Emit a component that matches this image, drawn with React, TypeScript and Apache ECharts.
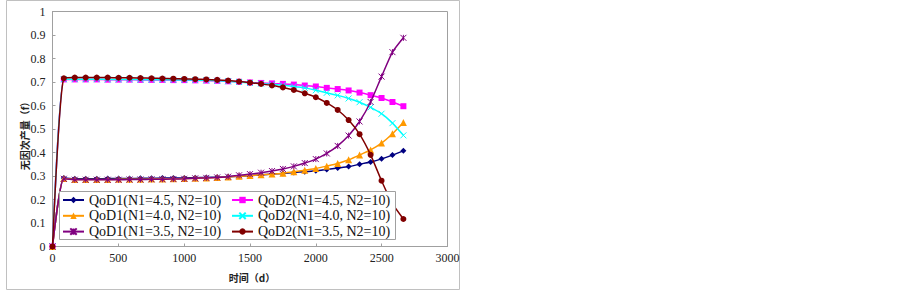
import React, { useEffect, useRef } from "react";
import * as echarts from "echarts";

const days = [0, 86, 169, 252, 336, 419, 502, 585, 668, 752, 835, 918, 1001, 1084, 1168, 1251, 1334, 1417, 1500, 1584, 1667, 1750, 1833, 1916, 2000, 2083, 2166, 2249, 2332, 2416, 2499, 2582, 2665];

const qod1N45 = [0, 0.291, 0.288, 0.288, 0.288, 0.289, 0.289, 0.289, 0.29, 0.29, 0.291, 0.291, 0.292, 0.293, 0.294, 0.295, 0.297, 0.299, 0.302, 0.305, 0.308, 0.311, 0.315, 0.318, 0.322, 0.328, 0.334, 0.34, 0.35, 0.36, 0.373, 0.389, 0.407];
const qod2N45 = [0, 0.711, 0.711, 0.711, 0.711, 0.71, 0.71, 0.71, 0.709, 0.709, 0.709, 0.708, 0.708, 0.707, 0.706, 0.705, 0.703, 0.701, 0.698, 0.696, 0.694, 0.692, 0.689, 0.685, 0.681, 0.675, 0.67, 0.664, 0.655, 0.644, 0.632, 0.615, 0.597];
const qod1N40 = [0, 0.289, 0.285, 0.285, 0.285, 0.285, 0.286, 0.286, 0.286, 0.287, 0.287, 0.288, 0.289, 0.29, 0.292, 0.294, 0.296, 0.299, 0.302, 0.305, 0.308, 0.312, 0.318, 0.325, 0.332, 0.342, 0.353, 0.369, 0.389, 0.411, 0.44, 0.48, 0.528];
const qod2N40 = [0, 0.712, 0.712, 0.712, 0.712, 0.711, 0.711, 0.711, 0.71, 0.71, 0.71, 0.709, 0.709, 0.708, 0.707, 0.705, 0.703, 0.7, 0.696, 0.693, 0.69, 0.686, 0.681, 0.675, 0.665, 0.654, 0.643, 0.63, 0.614, 0.592, 0.565, 0.525, 0.473];
const qod1N35 = [0, 0.288, 0.284, 0.284, 0.284, 0.284, 0.284, 0.285, 0.285, 0.286, 0.286, 0.287, 0.288, 0.29, 0.292, 0.294, 0.297, 0.303, 0.308, 0.314, 0.321, 0.33, 0.341, 0.355, 0.372, 0.396, 0.428, 0.472, 0.532, 0.615, 0.723, 0.827, 0.888];
const qod2N35 = [0, 0.716, 0.719, 0.719, 0.719, 0.719, 0.718, 0.718, 0.717, 0.716, 0.715, 0.714, 0.713, 0.712, 0.711, 0.709, 0.706, 0.702, 0.697, 0.692, 0.685, 0.677, 0.666, 0.652, 0.635, 0.611, 0.581, 0.538, 0.478, 0.39, 0.28, 0.182, 0.117];

const seriesNames = [
  "QoD1(N1=4.5, N2=10)",
  "QoD2(N1=4.5, N2=10)",
  "QoD1(N1=4.0, N2=10)",
  "QoD2(N1=4.0, N2=10)",
  "QoD1(N1=3.5, N2=10)",
  "QoD2(N1=3.5, N2=10)",
];
const seriesValues = [qod1N45, qod2N45, qod1N40, qod2N40, qod1N35, qod2N35];
const seriesColors = ["#000080", "#FF00FF", "#FF9900", "#00FFFF", "#800080", "#800000"];
const CROSS = "path://M0,0L10,10M10,0L0,10";
const STAR = "path://M0,0L10,10M10,0L0,10M5,0L5,10";
const seriesSymbols = ["diamond", "rect", "triangle", CROSS, STAR, "circle"];

const xTitle = "时间（d）";
const yTitle = "无因次产量（f）";

export default function App() {
  const ref = useRef<HTMLDivElement>(null);
  useEffect(() => {
    document.body.style.margin = "0";
    const chart = echarts.init(ref.current!, null, { renderer: "svg" });
    const serif = "'Liberation Serif', 'Times New Roman', serif";
    const series = seriesNames.map((name, i) => {
      const isPath = i === 3 || i === 4;
      return {
        name,
        type: "line",
        data: days.map((d, k) => [d, seriesValues[i][k]]),
        smooth: 0.2,
        symbol: seriesSymbols[i],
        symbolSize: i === 2 ? 7 : 6,
        lineStyle: { color: seriesColors[i], width: 1.5 },
        itemStyle: {
          color: isPath ? "rgba(0,0,0,0)" : seriesColors[i],
          borderColor: seriesColors[i],
          borderWidth: isPath ? 1 : 0,
          opacity: 1,
        },
        z: 2 + i * 0.01,
      };
    });
    const legendCommon = {
      orient: "vertical",
      top: 193,
      padding: 0,
      itemGap: 1.8,
      itemWidth: 21,
      itemHeight: 8,
      textStyle: { fontFamily: serif, fontSize: 14, color: "#111", lineHeight: 14 },
      z: 5,
    };
    chart.setOption({
      animation: false,
      backgroundColor: "#ffffff",
      grid: {
        left: 52.5,
        right: 903 - 447.5,
        top: 11.5,
        bottom: 290 - 246.5,
        show: true,
        borderColor: "#a0a0a0",
        borderWidth: 1,
        backgroundColor: "transparent",
      },
      xAxis: {
        type: "value",
        min: 0,
        max: 3000,
        interval: 500,
        axisLine: { show: true, lineStyle: { color: "#a0a0a0" } },
        axisTick: { show: true, inside: true, length: 3, lineStyle: { color: "#a0a0a0" } },
        splitLine: { show: false },
        axisLabel: {
          color: "#222",
          fontFamily: serif,
          fontSize: 12,
          margin: 5,
          formatter: (v: number) => String(v),
        },
      },
      yAxis: {
        type: "value",
        min: 0,
        max: 1,
        interval: 0.1,
        axisLine: { show: true, lineStyle: { color: "#a0a0a0" } },
        axisTick: { show: true, inside: true, length: 3, lineStyle: { color: "#a0a0a0" } },
        splitLine: { show: false },
        axisLabel: { color: "#222", fontFamily: serif, fontSize: 12, margin: 7 },
      },
      legend: [
        { ...legendCommon, data: [seriesNames[0], seriesNames[2], seriesNames[4]], left: 62 },
        { ...legendCommon, data: [seriesNames[1], seriesNames[3], seriesNames[5]], left: 231 },
      ],
      graphic: [
        {
          type: "rect",
          z: 0,
          shape: { x: 6.5, y: 0.5, width: 453, height: 289 },
          style: { fill: "none", stroke: "#c0c0c0", lineWidth: 1 },
        },
        {
          type: "rect",
          z: 4,
          shape: { x: 59.5, y: 191.5, width: 336, height: 48 },
          style: { fill: "#ffffff", stroke: "#a0a0a0", lineWidth: 1 },
        },
        {
          type: "text",
          z: 5,
          x: 252,
          y: 277,
          style: {
            text: xTitle,
            fill: "#222",
            font: "bold 10px 'Noto Sans CJK SC'",
            align: "center",
            verticalAlign: "middle",
          },
        },
        {
          type: "text",
          z: 5,
          x: 24.5,
          y: 133.5,
          rotation: Math.PI / 2,
          style: {
            text: yTitle,
            fill: "#222",
            font: "bold 10px 'Noto Sans CJK SC'",
            align: "center",
            verticalAlign: "middle",
          },
        },
      ],
      series,
    });
    return () => chart.dispose();
  }, []);
  return <div ref={ref} style={{ width: 903, height: 290 }} />;
}
